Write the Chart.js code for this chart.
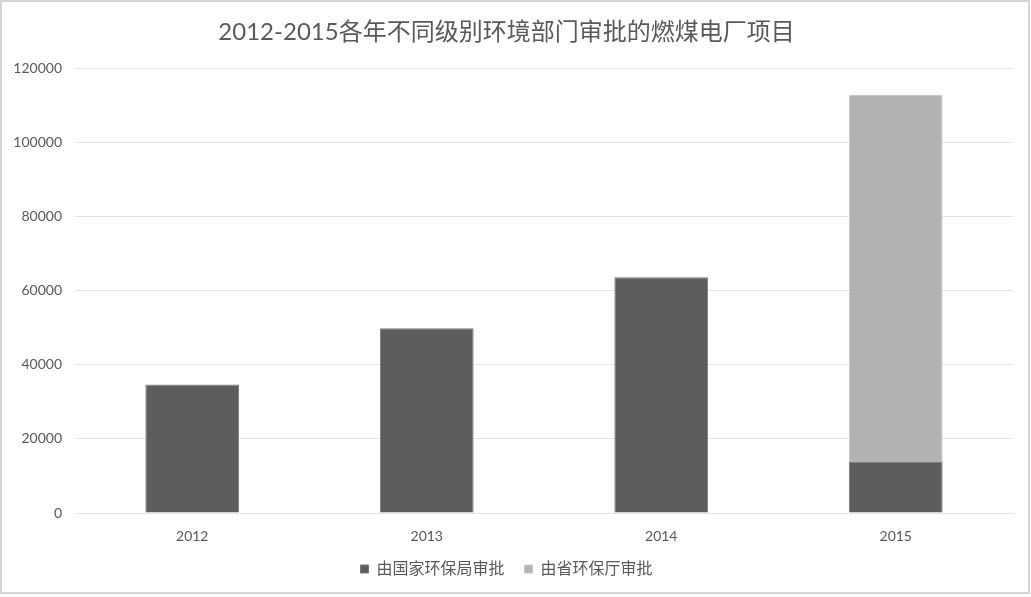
<!DOCTYPE html>
<html>
<head>
<meta charset="utf-8">
<script src="https://cdn.jsdelivr.net/npm/chart.js@4/dist/chart.umd.min.js"></script>
<style>
  html, body { margin: 0; padding: 0; background: #ffffff; }
  #wrap { width: 1031px; height: 597px; position: relative; }
</style>
</head>
<body>
<div id="wrap"><canvas id="c" width="1031" height="597"></canvas></div>
<script>
// Coal power plant approvals by level of environmental authority
const years = ['2012', '2013', '2014', '2015'];
const nationalApproved = [34700, 49900, 63700, 14000];
const provincialApproved = [0, 0, 0, 98900];
const seriesNames = ['由国家环保局审批', '由省环保厅审批'];
const titleText = '2012-2015各年不同级别环境部门审批的燃煤电厂项目';
const yTicks = [0, 20000, 40000, 60000, 80000, 100000, 120000];

const FONT = "Lato, 'Noto Sans CJK SC', sans-serif";
const TEXT = '#595959';
const GRID = '#e4e4e4';

// white background with a light frame around the chart
const framePlugin = {
  id: 'frame',
  beforeDraw(chart) {
    const { ctx, width, height } = chart;
    ctx.save();
    ctx.fillStyle = '#ffffff';
    ctx.fillRect(0, 0, width, height);
    ctx.strokeStyle = '#d4d4d4';
    ctx.lineWidth = 2;
    ctx.strokeRect(1, 1, width - 3, height - 5);
    ctx.restore();
  }
};

new Chart(document.getElementById('c'), {
  type: 'bar',
  data: {
    labels: years,
    datasets: [
      {
        label: seriesNames[0],
        data: nationalApproved,
        backgroundColor: '#5d5d5d',
        borderColor: '#7a7a7a',
        borderWidth: 1
      },
      {
        label: seriesNames[1],
        data: provincialApproved,
        backgroundColor: '#b2b2b2',
        borderColor: '#c8c8c8',
        borderWidth: 1
      }
    ]
  },
  plugins: [framePlugin],
  options: {
    responsive: false,
    animation: false,
    devicePixelRatio: 1,
    layout: { padding: { left: 0, right: 18, top: 0, bottom: 10 } },
    datasets: {
      bar: { categoryPercentage: 1.0, barPercentage: 0.4 }
    },
    scales: {
      x: {
        stacked: true,
        grid: { display: false, drawTicks: false },
        border: { display: true, color: GRID, width: 1 },
        ticks: { color: TEXT, font: { family: FONT, size: 14 }, padding: 15 },
        afterFit(scale) { scale.height = 28; }
      },
      y: {
        stacked: true,
        min: 0,
        max: 120000,
        afterBuildTicks(scale) { scale.ticks = yTicks.map(v => ({ value: v })); },
        grid: { color: GRID, lineWidth: 1, drawTicks: false },
        border: { display: false },
        ticks: {
          color: TEXT,
          font: { family: FONT, size: 14 },
          padding: 13,
          callback: v => String(v)
        },
        afterFit(scale) { scale.width = 75; }
      }
    },
    plugins: {
      title: {
        display: true,
        text: titleText,
        color: TEXT,
        font: { family: FONT, size: 24, weight: 'normal' },
        padding: { top: 18, bottom: 22 }
      },
      legend: {
        display: true,
        position: 'bottom',
        labels: {
          color: TEXT,
          font: { family: FONT, size: 16 },
          boxWidth: 8,
          boxHeight: 8,
          padding: 20
        }
      },
      tooltip: { enabled: false }
    }
  }
});
</script>
</body>
</html>
